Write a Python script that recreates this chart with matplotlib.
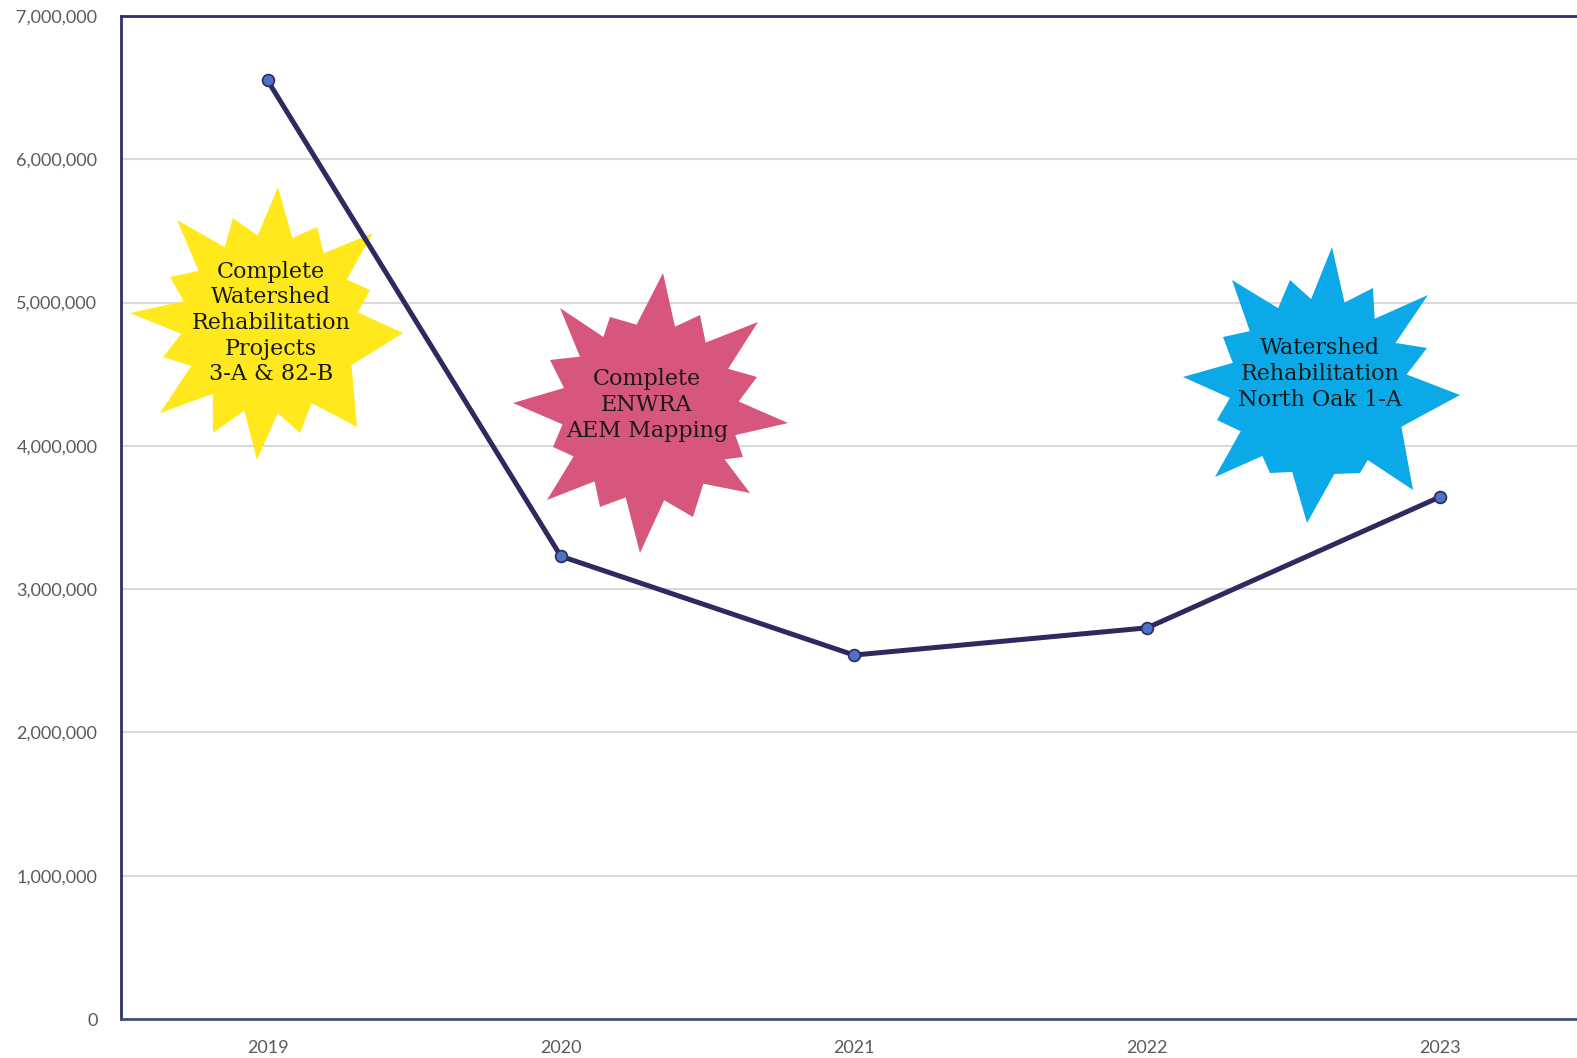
import numpy as np
import matplotlib
matplotlib.use("Agg")
import matplotlib.pyplot as plt
from matplotlib.patches import Polygon
from matplotlib.transforms import Affine2D

# ---- data ----
years = ["2019", "2020", "2021", "2022", "2023"]
values = [6550000, 3230000, 2540000, 2730000, 3645000]
y_ticks = [0, 1000000, 2000000, 3000000, 4000000, 5000000, 6000000, 7000000]

# ---- callouts (starbursts) ----
burst_texts = [
    "Complete\nWatershed\nRehabilitation\nProjects\n3-A & 82-B",
    "Complete\nENWRA\nAEM Mapping",
    "Watershed\nRehabilitation\nNorth Oak 1-A",
]
burst_colors = ["#FFE81C", "#D7567C", "#0BA9E7"]
burst_centers = [(270, 324), (650, 412), (1318, 388)]
burst_text_pos = [(271, 323), (647, 405), (1320, 374)]
burst_tips = [
    [(278, 187), (177, 220), (233, 218), (317, 227), (373, 233), (130, 313),
     (170, 277), (163, 357), (403, 333), (370, 290), (160, 413), (257, 460),
     (357, 427), (213, 433), (300, 433)],
    [(663, 273), (560, 308), (610, 317), (700, 315), (758, 322), (550, 360),
     (513, 403), (757, 377), (788, 423), (547, 500), (553, 447), (640, 553),
     (750, 493), (693, 517), (600, 507), (743, 457)],
    [(1332, 247), (1232, 280), (1290, 280), (1373, 288), (1428, 295), (1223, 337),
     (1183, 377), (1427, 348), (1460, 395), (1215, 477), (1217, 420), (1307, 523),
     (1413, 490), (1360, 473), (1270, 473)],
]

W, H = 1577, 1058
fig = plt.figure(figsize=(W / 100, H / 100), dpi=100)
fig.patch.set_facecolor("white")
ax = fig.add_axes([121 / W, 1 - 1019 / H, (1587 - 121) / W, (1019 - 16) / H])

x = np.arange(len(years))
ax.plot(x, values, color="#2D2A5F", lw=3.6, marker="o", markersize=8.5,
        markerfacecolor="#4D73C4", markeredgecolor="#2D2A5F", markeredgewidth=1.2,
        zorder=5, solid_capstyle="round")

ax.set_xlim(-0.5, len(years) - 0.5)
ax.set_ylim(0, 7000000)
ax.set_xticks(x)
ax.set_xticklabels(years)
ax.set_yticks(y_ticks)
ax.set_yticklabels([f"{v:,}" for v in y_ticks])
ax.tick_params(axis="both", length=0, labelsize=13, labelcolor="#5A5A5A")
ax.tick_params(axis="y", pad=17)
ax.tick_params(axis="x", pad=15)
for lab in ax.get_xticklabels() + ax.get_yticklabels():
    lab.set_fontfamily("Lato")

ax.grid(axis="y", color="#D9D9D9", lw=1.5, zorder=0)
ax.set_axisbelow(True)
for s in ["left", "top"]:
    ax.spines[s].set_color("#2E2F6E")
    ax.spines[s].set_linewidth(2)
ax.spines["bottom"].set_color("#3F527E")
ax.spines["bottom"].set_linewidth(2)
ax.spines["right"].set_visible(False)

# pixel transform (top-left origin)
pix = Affine2D().scale(1 / W, -1 / H).translate(0, 1) + fig.transFigure

inner_r = 92
for tips, col, (cx, cy), txt, (tx, ty) in zip(burst_tips, burst_colors, burst_centers,
                                                burst_texts, burst_text_pos):
    pts = []
    for (px, py) in tips:
        ang = np.arctan2(py - cy, px - cx)
        r = np.hypot(px - cx, py - cy)
        pts.append((ang, r))
    pts.sort()
    verts = []
    n = len(pts)
    for i in range(n):
        a, r = pts[i]
        a2, r2 = pts[(i + 1) % n]
        if a2 <= a:
            a2 += 2 * np.pi
        verts.append((cx + r * np.cos(a), cy + r * np.sin(a)))
        am = (a + a2) / 2
        rv = inner_r * (0.85 + 0.15 * min(r, r2) / 140)
        verts.append((cx + rv * np.cos(am), cy + rv * np.sin(am)))
    poly = Polygon(verts, closed=True, facecolor=col, edgecolor="none",
                   transform=pix, zorder=3, clip_on=False)
    ax.add_patch(poly)
    ax.text(tx, ty, txt, transform=pix, ha="center", va="center",
            fontsize=16, family="DejaVu Serif", color="#1A1A1A",
            linespacing=1.22, zorder=4)

fig.savefig("out.png", dpi=100)
